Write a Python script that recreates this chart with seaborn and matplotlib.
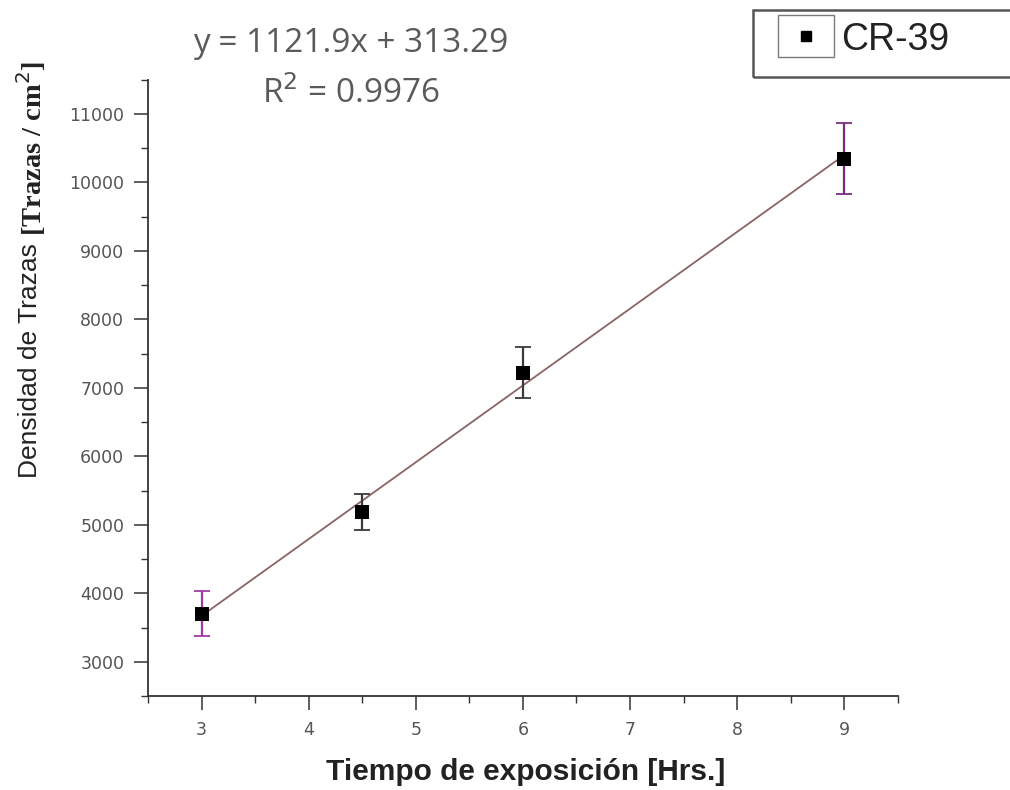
import numpy as np
import pandas as pd
import matplotlib
matplotlib.use("Agg")
import matplotlib.pyplot as plt
from matplotlib.ticker import MultipleLocator
from matplotlib.patches import Rectangle
from matplotlib.lines import Line2D
from matplotlib.legend_handler import HandlerBase
import seaborn as sns

# data
tiempo = [3.0, 4.5, 6.0, 9.0]
densidad = [3700, 5190, 7220, 10350]
error = [330, 260, 370, 520]
err_colors = ["#a23aa6", "#3a3a3a", "#3a3a3a", "#7a2d7e"]
serie = "CR-39"
ecuacion = "y = 1121.9x + 313.29"
r2 = "R$^2$ = 0.9976"

df = pd.DataFrame({"t": tiempo, "d": densidad})

sns.set_style("white")
plt.rcParams["font.family"] = ["Liberation Sans", "DejaVu Sans"]


class BoxedMarker(HandlerBase):
    # Origin-style legend symbol: small marker inside a thin box
    def create_artists(self, legend, orig_handle, xdescent, ydescent,
                       width, height, fontsize, trans):
        box = Rectangle((-xdescent, -ydescent - 0.3 * height), width,
                        height * 1.6, fill=False, edgecolor="#7a7a7a",
                        linewidth=1.0, transform=trans)
        mk = Line2D([width / 2 - xdescent], [height / 2 - ydescent],
                    marker="s", markersize=7, color="black", linestyle="",
                    transform=trans)
        return [box, mk]


fig = plt.figure(figsize=(10.1, 7.9), dpi=100)
ax = fig.add_axes([0.1465, 0.119, 0.7425, 0.78])

# linear fit line
sns.regplot(data=df, x="t", y="d", ci=None, scatter=False, truncate=True,
            line_kws=dict(color="#8a6464", linewidth=1.3), ax=ax)

# error bars
for t, d, e, c in zip(tiempo, densidad, error, err_colors):
    ax.errorbar(t, d, yerr=e, fmt="none", ecolor=c, elinewidth=1.6,
                capsize=6, capthick=1.3, zorder=3)

sns.scatterplot(data=df, x="t", y="d", marker="s", s=110, color="black",
                edgecolor="black", linewidth=0, zorder=4, legend=False, ax=ax)

ax.set_xlim(2.5, 9.5)
ax.set_ylim(2500, 11500)
ax.xaxis.set_major_locator(MultipleLocator(1))
ax.xaxis.set_minor_locator(MultipleLocator(0.5))
ax.yaxis.set_major_locator(MultipleLocator(1000))
ax.yaxis.set_minor_locator(MultipleLocator(500))
ax.tick_params(which="major", direction="out", length=10, width=1.1,
               color="#333333", labelsize=12.5, labelcolor="#555555",
               bottom=True, left=True)
ax.tick_params(axis="y", which="major", pad=7)
ax.tick_params(axis="x", which="major", pad=8)
ax.tick_params(which="minor", direction="out", length=5, width=1.0,
               color="#333333", bottom=True, left=True)
for lab in ax.get_xticklabels() + ax.get_yticklabels():
    lab.set_family(["DejaVu Sans"])
for s in ["top", "right"]:
    ax.spines[s].set_visible(False)
for s in ["left", "bottom"]:
    ax.spines[s].set_color("#333333")
    ax.spines[s].set_linewidth(1.3)

ax.set_xlabel("Tiempo de exposición [Hrs.]", fontsize=21.5, fontweight="bold",
              color="#222222", va="top")
ax.xaxis.set_label_coords(0.503, -0.1)
ax.set_ylabel("")

# y label in two fonts, as in the reference
fig.text(30 / 1010, 1 - 478 / 790, "Densidad de Trazas ", rotation=90,
         ha="center", va="bottom", fontsize=19, color="#222222")
fig.text(31 / 1010, 1 - 236 / 790, "[Trazas / cm$^2$]", rotation=90,
         ha="center", va="bottom", fontsize=20.5, fontweight="bold",
         color="#222222", family=["Liberation Serif", "DejaVu Serif"])

# regression equation
fig.text(351 / 1010, 1 - 44 / 790, ecuacion, ha="center", va="center",
         fontsize=24, color="#5a5a5a", family=["Open Sans", "DejaVu Sans"])
fig.text(351 / 1010, 1 - 94 / 790, r2, ha="center", va="center",
         fontsize=24, color="#5a5a5a", family=["Open Sans", "DejaVu Sans"])

# legend, its frame runs off the right edge like the reference
frame = Rectangle((753 / 1010, 1 - 77 / 790), 300 / 1010, 67 / 790,
                  transform=fig.transFigure, fill=False, edgecolor="#555555",
                  linewidth=1.8, clip_on=False)
fig.add_artist(frame)
proxy = Line2D([], [], marker="s", color="black", linestyle="")
leg = ax.legend([proxy], [serie], handler_map={Line2D: BoxedMarker()},
                loc="upper left", bbox_to_anchor=(770 / 1010, 1 - 14 / 790),
                bbox_transform=fig.transFigure, fontsize=27, frameon=False,
                handlelength=1.5, handletextpad=0.2, borderpad=0.2,
                borderaxespad=0)
for txt in leg.get_texts():
    txt.set_color("#222222")

fig.savefig("out.png", dpi=100)
